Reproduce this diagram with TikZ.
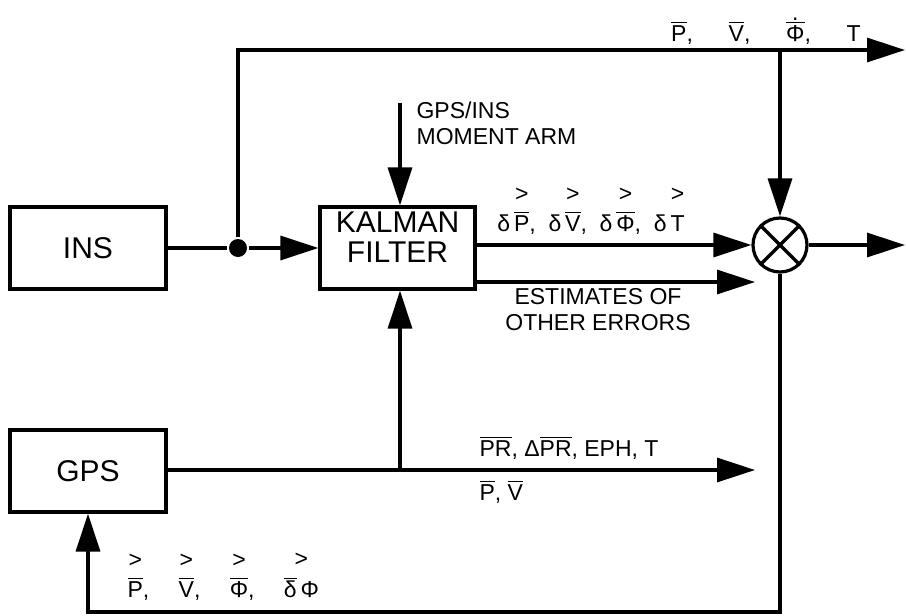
\documentclass[tikz,border=0pt]{standalone}
\usepackage{fontspec}
\setmainfont{Liberation Sans}
\usetikzlibrary{arrows.meta}
\newcommand{\ovl}[1]{\(\overline{\mbox{#1}}\)}
\newcommand{\stk}[3][2pt]{\shortstack{#2\\[#1]#3}}

\begin{document}
\begin{tikzpicture}[x=0.5pt,y=-0.5pt,line width=1.6pt,
  blk/.style={draw,minimum width=78pt,minimum height=41pt,inner sep=0pt,font=\fontsize{15}{15}\selectfont},
  sig/.style={-{Triangle[length=19pt,width=12pt]}},
  lbl/.style={font=\fontsize{11.5}{13}\selectfont,inner sep=1pt}]
\useasboundingbox (0,0) rectangle (906,616);
% blocks
\node[blk] (ins) at (88,248) {INS};
\node[blk] (gps) at (88,471) {GPS};
\node[blk,minimum width=77.5pt] (kf) at (397.5,248) {};
\node[font=\fontsize{15}{15}\selectfont,align=center,inner sep=0pt] (kftext) at (397.5,237) {KALMAN\\FILTER};
\node[draw,circle,minimum size=27pt,inner sep=0pt] (mul) at (780,245) {};
\draw (mul.45) -- (mul.225);
\draw (mul.135) -- (mul.315);
\node[circle,fill,inner sep=0pt,minimum size=9pt] (jn) at (238,248) {};
% free ends
\coordinate (topend) at (905,50);
\coordinate (tap) at (780,50);
\coordinate (outend) at (905,245);
\coordinate (est) at (755,282);
\coordinate (arm) at (400,103);
\coordinate (gpsend) at (755,470);
\coordinate (fbk) at (88,612);
% connectors
\draw (ins.east |- jn) -- (jn);
\draw[sig] (jn) -- (kf.west |- jn);
\draw[sig] (jn) |- (topend);
\draw[sig] (tap) -- (mul.north);
\draw[sig] (kf.east |- mul) -- (mul.west);
\draw[sig] (mul.east) -- (outend);
\draw[sig] (kf.east |- est) -- (est);
\draw[sig] (arm) -- (arm |- kf.north);
\draw[sig] (gps.east |- gpsend) -- (gpsend);
\draw[sig] (arm |- gpsend) -- (arm |- kf.south);
\draw[sig] (mul.south) |- (fbk) -- (gps.south);
% labels
\node[lbl,anchor=south] (toplbl) at (766,48) {\ovl{P}, \quad\ \ovl{V}, \quad\ \stk[-2.5pt]{.}{\ovl{Φ}}, \quad\ T};
\node[lbl,anchor=west,align=left] (armlbl) at (413,123) {GPS/INS\\MOMENT ARM};
\node[lbl,anchor=south] (dlbl) at (591,238) {δ\,\stk{>}{\ovl{P}}, \ δ\,\stk{>}{\ovl{V}}, \ δ\,\stk{>}{\ovl{Φ}}, \ δ\,\stk{>}{\vphantom{\ovl{P}}T}};
\node[lbl,align=center] (estlbl) at (598,310) {ESTIMATES OF\\OTHER ERRORS};
\node[lbl,anchor=south west] (prlbl) at (476,463) {\ovl{PR}, Δ\ovl{PR}, EPH, T};
\node[lbl,anchor=north west] (pvlbl) at (476,477) {\ovl{P}, \ovl{V}};
\node[lbl,anchor=south west] (fblbl) at (124,604) {\stk{>}{\ovl{P}}, \quad\stk{>}{\ovl{V}}, \quad\stk{>}{\ovl{Φ}}, \quad\stk{>}{\ovl{δ}\,Φ}};
\end{tikzpicture}
\end{document}
